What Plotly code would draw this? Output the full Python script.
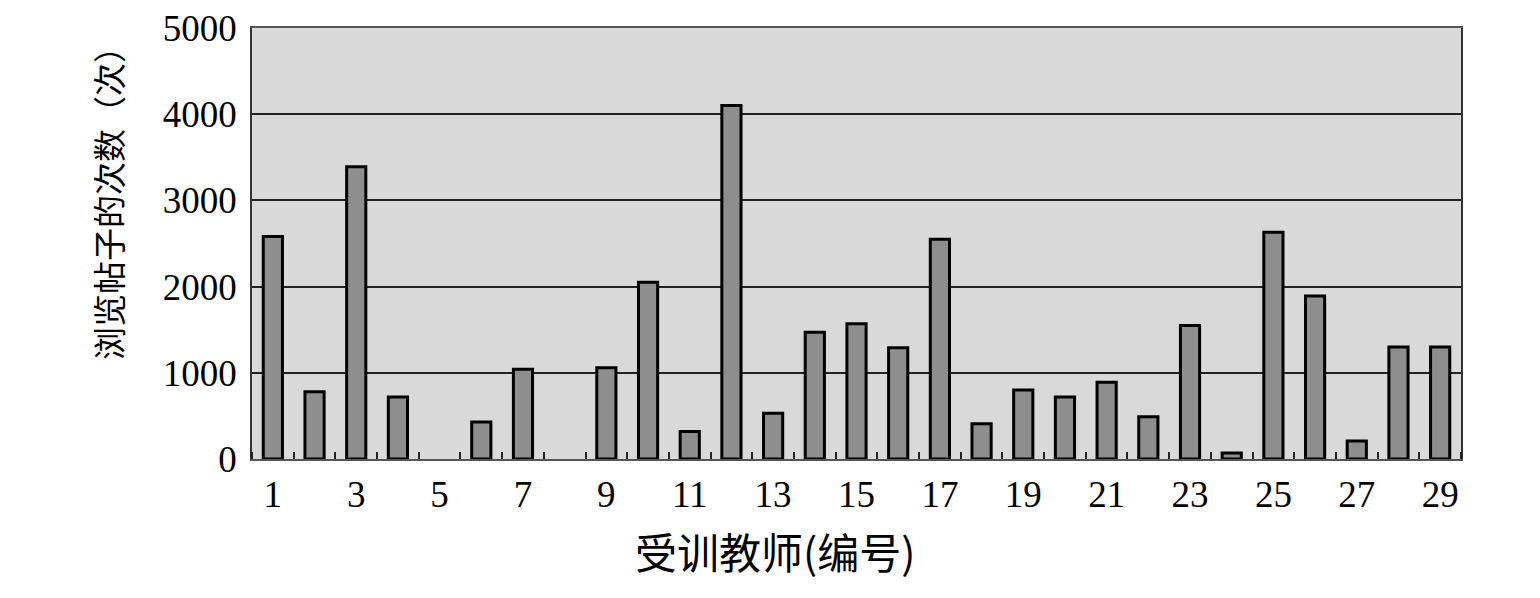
import plotly.graph_objects as go

teachers = list(range(1, 30))
views = [2580, 780, 3390, 720, 0, 430, 1040, 0, 1060, 2050,
         320, 4100, 530, 1470, 1570, 1290, 2550, 410, 800, 720,
         890, 490, 1550, 70, 2630, 1890, 210, 1300, 1300]
x_ticks = list(range(1, 30, 2))
y_ticks = [0, 1000, 2000, 3000, 4000, 5000]
x_title = "受训教师(编号)"
y_title = "浏览帖子的次数（次）"

# page has an 8px body margin; compensate so the plot lands where the reference has it
OFF = 8
L, T = 252 - OFF, 28 - OFF
PW, PH = 1209, 431
W, H = 1540, 598
R, B = W - L - PW, H - T - PH

fig = go.Figure()
fig.add_trace(go.Bar(
    x=teachers, y=views, width=0.46,
    marker=dict(color="#8e8e8e",
                line=dict(color="black", width=[0 if v == 0 else 3 for v in views])),
))

serif = "Liberation Serif, Times New Roman, serif"
cjk = "Noto Sans CJK SC"
fig.update_layout(
    width=W, height=H,
    margin=dict(l=L, r=R, t=T, b=B, autoexpand=False),
    paper_bgcolor="white", plot_bgcolor="#d9d9d9",
    showlegend=False,
    font=dict(family=serif, size=37, color="black"),
    xaxis=dict(
        range=[0.5, 29.5], tickvals=x_ticks, ticktext=[str(v) for v in x_ticks],
        ticks="", showgrid=False, zeroline=False, automargin=False,
        showline=True, linecolor="#555", linewidth=1.5, mirror=True,
        tickfont=dict(size=37, family=serif), ticklabelstandoff=2,
        ticklabeloverflow="allow",
        minor=dict(tick0=0.5, dtick=1, ticks="inside", ticklen=7,
                   tickcolor="#222", tickwidth=1.5, showgrid=False),
    ),
    yaxis=dict(
        range=[0, 5000], tickvals=y_ticks, ticks="",
        showgrid=True, gridcolor="#222", gridwidth=1.5, zeroline=False, automargin=False,
        showline=True, linecolor="#333", linewidth=1.5, mirror=True,
        tickfont=dict(size=37, family=serif), ticklabelstandoff=6,
        ticklabeloverflow="allow",
    ),
    annotations=[
        dict(text=x_title, xref="paper", yref="paper",
             x=(775 - 252) / PW, y=(459 - 550) / PH,
             xanchor="center", yanchor="middle", showarrow=False,
             font=dict(size=42, family=cjk, color="black")),
        dict(text=y_title, xref="paper", yref="paper",
             x=(108 - 252) / PW, y=(459 - 195) / PH, textangle=-90,
             xanchor="center", yanchor="middle", showarrow=False,
             font=dict(size=33, family=cjk, color="black")),
    ],
)

fig.write_html("out.html")
